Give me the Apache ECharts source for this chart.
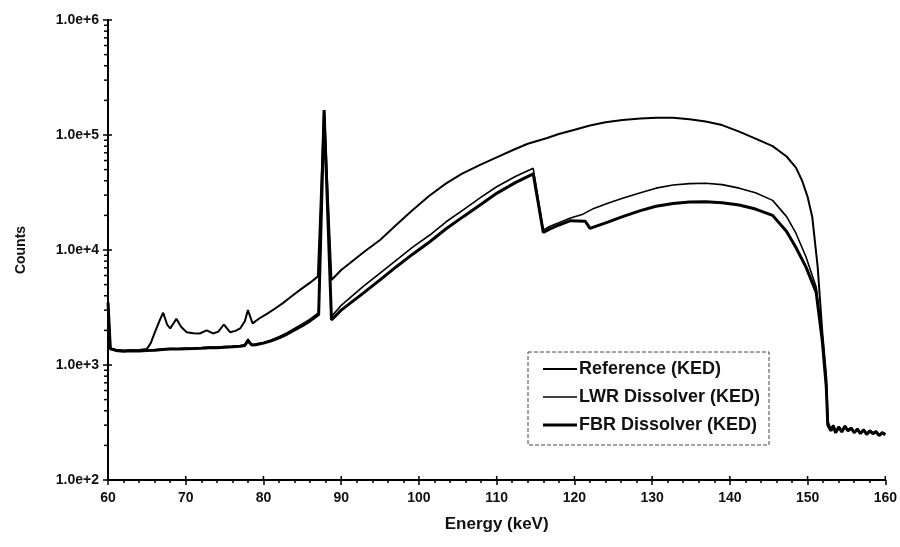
<!DOCTYPE html>
<html>
<head>
<meta charset="utf-8">
<script src="https://cdn.jsdelivr.net/npm/echarts@6/dist/echarts.min.js"></script>
<style>
html,body{margin:0;padding:0;background:#fff;}
#chart{width:900px;height:547px;}
</style>
</head>
<body>
<div id="chart"></div>
<script>
// ---- Data (Energy in keV, Counts) ----
const refE = [60.0,60.3,61,62,63,64,65,65.5,66,66.6,67.1,67.6,68.0,68.8,69.4,70.1,71,71.8,72.7,73.5,74.2,74.9,75.7,76.4,77.0,77.6,78.0,78.6,79.5,80.5,81.5,82.5,83.5,84.7,86.0,87.0,87.8,88.75,90,91.1,93,95,97,99.2,101.3,103.5,105.5,107.8,110,112.1,114,116.4,118,119.8,122,124,126.2,128.5,130.5,132.7,134.8,136.9,139,141.2,143.3,145.5,147.3,148.5,149.3,150,150.6,151.3,151.9,152.4,152.6,153,153.3,153.6,154,154.4,154.8,155.2,155.6,156,156.4,156.8,157.2,157.6,158,158.4,158.8,159.2,159.6,160];
const refC = [3500,1400,1360,1340,1345,1350,1380,1550,1900,2400,2850,2250,2080,2520,2150,1930,1890,1880,2000,1880,1950,2250,1930,1980,2080,2400,3000,2300,2550,2800,3100,3450,3900,4500,5200,5900,165000,5480,6700,7660,9700,12200,16300,22300,29500,38000,46000,54800,64000,74100,84000,93600,102000,110000,121000,129000,135000,139000,141000,141000,137000,131000,122000,107000,93000,80000,65000,52000,40000,29000,19400,7100,1900,790,320,275,300,262,292,268,296,272,285,262,280,256,276,252,270,256,266,246,260,252];

const lwrE = [60.0,60.3,61,62,63,64,65,66,67,68,69,70,71,72,73,74,75,76,77,77.6,78.0,78.5,79,80,81,82,83,84,85,86,87.1,87.8,88.75,90,92.8,95,97.1,99.2,101.4,103.5,105.7,108,110,112.4,114.7,116.0,116.8,118,119.5,121.1,122.5,124.3,126.2,128.5,130.5,132.7,134.8,136.9,139,141.2,143.3,145.5,147.3,148.5,149.8,151.1,151.9,152.4,152.6,153,153.3,153.6,154,154.4,154.8,155.2,155.6,156,156.4,156.8,157.2,157.6,158,158.4,158.8,159.2,159.6,160];
const lwrC = [3500,1400,1350,1330,1335,1330,1340,1355,1375,1390,1385,1395,1400,1410,1430,1425,1445,1455,1470,1500,1680,1510,1520,1570,1650,1760,1900,2080,2280,2500,2850,165000,2640,3300,4800,6300,8180,10600,13500,17600,22300,28800,35500,43500,51300,14900,16000,17300,19000,20500,23000,25500,28200,31500,34500,36700,37800,38000,37000,34500,31500,27000,19500,14000,8700,4770,1700,700,300,270,298,260,290,265,294,270,284,260,279,255,275,251,269,255,265,245,259,250];

const fbrE = [60.0,60.3,61,62,63,64,65,66,67,68,69,70,71,72,73,74,75,76,77,77.6,78.0,78.5,79,80,81,82,83,84,85,86,87.1,87.8,88.75,90,92.8,95,97.1,99.2,101.4,103.5,105.7,108,110,112.4,114.7,116.0,116.8,118,119.5,121.4,122.0,124.3,126.2,128.5,130.5,132.7,134.8,136.9,139,141.2,143.3,145.5,147.3,148.5,149.8,151.1,151.9,152.4,152.6,153,153.3,153.6,154,154.4,154.8,155.2,155.6,156,156.4,156.8,157.2,157.6,158,158.4,158.8,159.2,159.6,160];
const fbrC = [3500,1380,1340,1320,1330,1325,1335,1345,1365,1380,1375,1385,1390,1400,1415,1415,1430,1440,1455,1480,1620,1490,1500,1550,1620,1720,1850,2020,2200,2420,2750,165000,2460,3000,4200,5500,7160,9200,11800,15300,19500,25000,31100,38500,46000,14200,15200,16500,18000,17800,15400,17500,19500,22000,24000,25400,26200,26300,25800,24600,22700,20000,14500,10500,7100,4300,1600,650,300,268,296,258,288,262,292,268,282,258,277,253,273,249,267,253,263,243,257,248];

const seriesNames = ['Reference (KED)','LWR Dissolver (KED)','FBR Dissolver (KED)'];
const xTicks = [60,70,80,90,100,110,120,130,140,150,160];
const yMajorTicks = [100,1000,10000,100000,1000000];
const yMinorTicks = [200,300,400,500,600,700,800,900,2000,3000,4000,5000,6000,7000,8000,9000,20000,30000,40000,50000,60000,70000,80000,90000,200000,300000,400000,500000,600000,700000,800000,900000];

function zip(a,b){return a.map((v,i)=>[v,b[i]]);}

const FONT = '"Liberation Sans", Arial, sans-serif';
const chart = echarts.init(document.getElementById('chart'), null, {renderer:'canvas'});

const tickItem = (dir) => function(params, api){
  const p = api.coord([api.value(0), api.value(1)]);
  let shape;
  if (dir === 'yminor') shape = {x1:p[0]-4, y1:p[1], x2:p[0], y2:p[1]};
  else if (dir === 'yin') shape = {x1:p[0], y1:p[1], x2:p[0]+4, y2:p[1]};
  else shape = {x1:p[0], y1:p[1], x2:p[0], y2:p[1]-4};
  return {type:'line', shape:shape, style:{stroke:'#000', lineWidth:1.5}};
};

chart.setOption({
  animation:false,
  backgroundColor:'#fff',
  grid:{left:108,right:13,top:20,bottom:67},
  legend:{
    data:[
      {name:seriesNames[0], icon:'path://M0,0H34V2H0Z'},
      {name:seriesNames[1], icon:'path://M0,0H34V1.5H0Z'},
      {name:seriesNames[2], icon:'path://M0,0H34V3.2H0Z'}
    ],
    orient:'vertical',
    left:528, top:352,
    itemWidth:34, itemHeight:14, itemGap:10,
    padding:[8,9,11,15],
    borderColor:'#444', borderWidth:1, borderType:'dashed',
    backgroundColor:'#fff',
    itemStyle:{color:'#000'},
    textStyle:{fontFamily:FONT, fontWeight:'bold', fontSize:18, color:'#111', padding:[0,0,0,-3]}
  },
  xAxis:{
    type:'value', min:60, max:160, interval:10,
    name:'Energy (keV)', nameLocation:'middle', nameGap:36,
    nameTextStyle:{fontFamily:FONT, fontWeight:'bold', fontSize:17, color:'#111'},
    axisLine:{show:true, onZero:false, lineStyle:{color:'#000', width:2}},
    axisTick:{show:true, length:5, lineStyle:{color:'#000', width:1.5}},
    minorTick:{show:true, splitNumber:5, length:3, lineStyle:{color:'#000', width:1.5}},
    axisLabel:{fontFamily:FONT, fontWeight:'bold', fontSize:14, color:'#111', margin:11},
    splitLine:{show:false}, minorSplitLine:{show:false}
  },
  yAxis:{
    type:'log', logBase:10, min:100, max:1000000,
    name:'Counts', nameLocation:'middle', nameGap:80, nameRotate:90,
    nameTextStyle:{fontFamily:FONT, fontWeight:'bold', fontSize:14, color:'#111'},
    axisLine:{show:true, onZero:false, lineStyle:{color:'#000', width:2}},
    axisTick:{show:true, length:5, lineStyle:{color:'#000', width:1.5}},
    axisLabel:{fontFamily:FONT, fontWeight:'bold', fontSize:14, color:'#111', margin:9,
      formatter:function(v){return Number(v).toExponential(1);}},
    splitLine:{show:false}
  },
  series:[
    {name:seriesNames[0], type:'line', data:zip(refE,refC), symbol:'none', smooth:false,
     lineStyle:{color:'#000', width:2}, itemStyle:{color:'#000'}, z:3},
    {name:seriesNames[1], type:'line', data:zip(lwrE,lwrC), symbol:'none', smooth:false,
     lineStyle:{color:'#000', width:1.6}, itemStyle:{color:'#000'}, z:3},
    {name:seriesNames[2], type:'line', data:zip(fbrE,fbrC), symbol:'none', smooth:false,
     lineStyle:{color:'#000', width:3}, itemStyle:{color:'#000'}, z:4},
    {type:'custom', silent:true, clip:false, renderItem:tickItem('yminor'),
     data:yMinorTicks.map(v=>[60,v]), z:5},
    {type:'custom', silent:true, clip:false, renderItem:tickItem('yin'),
     data:yMajorTicks.map(v=>[60,v]), z:5},
    {type:'custom', silent:true, clip:false, renderItem:tickItem('xin'),
     data:xTicks.map(v=>[v,100]), z:5}
  ]
});
</script>
</body>
</html>
